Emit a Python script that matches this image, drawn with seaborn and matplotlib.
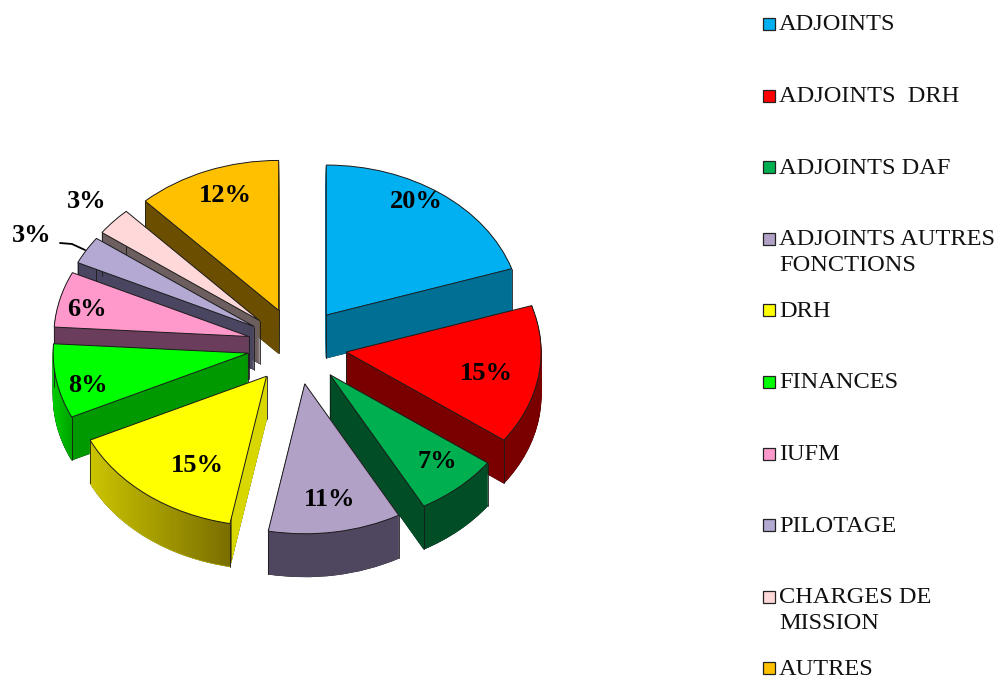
import numpy as np
import seaborn as sns
import matplotlib.pyplot as plt
from matplotlib.colors import to_rgb
from matplotlib.patches import Rectangle, Wedge
from matplotlib.path import Path

labels = ['ADJOINTS', 'ADJOINTS  DRH', 'ADJOINTS DAF', 'ADJOINTS AUTRES\nFONCTIONS', 'DRH',
          'FINANCES', 'IUFM', 'PILOTAGE', 'CHARGES DE\nMISSION', 'AUTRES']
values = [20, 15, 7, 11, 15, 8, 6, 3, 3, 12]
top_colors = ['#00b0f0', '#ff0000', '#00b050', '#b2a1c7', '#ffff00',
              '#00ff00', '#ff99cc', '#b3a9d3', '#ffd9d9', '#ffc000']
side_colors = ['#006f94', '#7a0000', '#004d26', '#4f4660', '#d8d800',
               '#009900', '#6b3d5c', '#4a4560', '#6d5f5f', '#6b4e00']
pct_x = [416, 486, 437, 330, 197, 88, 87, 87, 32, 225]
pct_y = [201, 373, 462, 500, 465, 386, 309, 201, 235, 196]

W, H = 1001, 679
cx, cy, rx, ry = 297, 346, 195, 150
depth = 43
explode = 0.255


def to_data(x, y):
    return (x - cx) / rx, (cy - y) / ry


sns.set_theme(style='white')
plt.rcParams['font.family'] = ['Liberation Serif', 'DejaVu Sans']

fig = plt.figure(figsize=(W / 100, H / 100), dpi=100)
ax = fig.add_axes([0, 0, 1, 1])

# side walls: same pie stacked downwards, one layer per pixel
explodes = [explode] * len(values)
layers = {}
for d in range(depth, 0, -1):
    wedges, _ = ax.pie(values, colors=sns.color_palette(side_colors), startangle=90, counterclock=False,
                       explode=explodes, center=(0, -d / ry), frame=True,
                       wedgeprops={'linewidth': 0.5, 'zorder': 2 + (depth - d) * 0.01})
    for i, w in enumerate(wedges):
        w.set_edgecolor(w.get_facecolor())
        layers.setdefault(i, []).append(w)

# shaded outer walls of DRH and FINANCES
for i, x0, x1, c0, c1 in [(4, 90, 232, '#cbc400', '#7a6e00'), (5, 53, 72, '#00cc00', '#00a000')]:
    clip = Path.make_compound_path(*[w.get_path() for w in layers[i]])
    grad = np.linspace(to_rgb(c0), to_rgb(c1), 64)[None, :, :]
    (l, _), (r, _) = to_data(x0, 0), to_data(x1, 0)
    im = ax.imshow(grad, extent=(l, r, -3, 3), aspect='auto', zorder=2.9, interpolation='bilinear')
    im.set_clip_path(clip, ax.transData)

# top faces
wedges, _ = ax.pie(values, colors=sns.color_palette(top_colors), startangle=90, counterclock=False,
                   explode=explodes, frame=True,
                   wedgeprops={'linewidth': 0.7, 'edgecolor': '#1a1a1a', 'zorder': 4})

# vertical edges at wedge corners, the one at 12 o'clock stays hidden
for w in wedges:
    ox, oy = w.center
    pts = [(ox, oy)]
    for a in (w.theta1, w.theta2):
        if abs(a % 360 - 90) > 1:
            pts.append((ox + np.cos(np.radians(a)), oy + np.sin(np.radians(a))))
    for px_, py_ in pts:
        ax.plot([px_, px_], [py_, py_ - depth / ry], color='#1a1a1a', lw=0.6, zorder=3)

# bottom outline
for i, w in layers.items():
    bottom = w[0]
    ax.add_patch(Wedge(bottom.center, bottom.r, bottom.theta1, bottom.theta2,
                       fill=False, ec='#1a1a1a', lw=0.6, zorder=1.9))

for x, y, v in zip(pct_x, pct_y, values):
    dx, dy = to_data(x, y)
    ax.text(dx, dy, f'{v}%', ha='center', va='center', fontsize=19, fontweight='bold',
            color='black', zorder=6)

lx, ly = zip(*[to_data(60, 243), to_data(72, 244), to_data(85, 250)])
ax.plot(lx, ly, color='black', lw=1.3, zorder=6)

ax.set_xlim(to_data(0, 0)[0], to_data(W, 0)[0])
ax.set_ylim(to_data(0, H)[1], to_data(0, 0)[1])
ax.set_aspect('auto')
ax.axis('off')

# legend rows sit on a regular step, wrapped labels hang below
for i, lab in enumerate(labels):
    y = 24 + i * 71.6
    bx, by = to_data(763, y + 6)
    bx2, by2 = to_data(775, y - 6)
    ax.add_patch(Rectangle((bx, by), bx2 - bx, by2 - by, fc=top_colors[i], ec='#222222', lw=0.9, zorder=5))
    tx, ty = to_data(779, y - 9.5)
    ax.text(tx, ty, lab, ha='left', va='top', fontsize=17.6, color='#111111', linespacing=1.3, zorder=5)

fig.savefig('out.png', dpi=100, facecolor='white')
